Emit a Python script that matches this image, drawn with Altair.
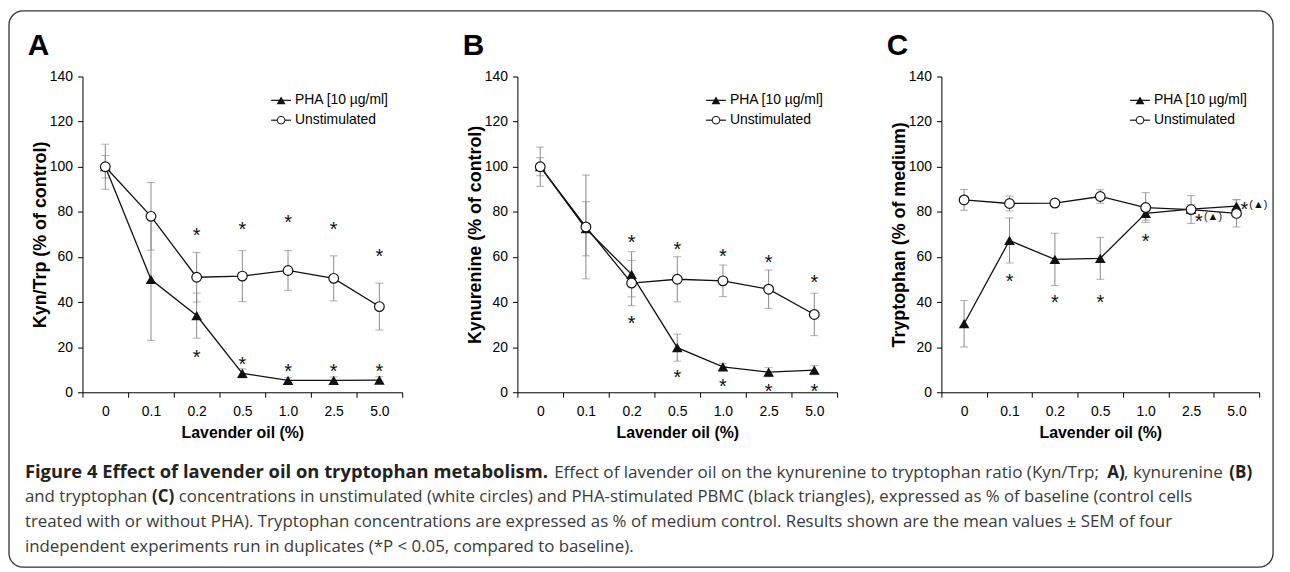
import json
import altair as alt
import pandas as pd

# ---------------- data ----------------
CATS = ["0", "0.1", "0.2", "0.5", "1.0", "2.5", "5.0"]

A_PHA = [100, 50, 34, 8.4, 5.3, 5.3, 5.4]
A_PHA_ERR = [5, 27, 10, 2, 1.2, 1.5, 1.5]
A_UNS = [100, 78, 51, 51.5, 54, 50.5, 38]
A_UNS_ERR = [10, 15, 11, 11.3, 8.8, 10, 10.4]
A_STAR_IDX = [2, 3, 4, 5, 6, 2, 3, 4, 5, 6]
A_STAR_Y = [71.4, 74.3, 77.3, 74.3, 62.3, 17.4, 14.2, 11.3, 11.3, 11.3]

B_PHA = [100, 72.5, 52.3, 19.8, 11.3, 8.9, 9.8]
B_PHA_ERR = [4, 12, 10, 6, 1.5, 2, 2]
B_UNS = [100, 73.3, 48.4, 50.1, 49.4, 45.7, 34.5]
B_UNS_ERR = [8.7, 23, 10, 10, 7, 8.5, 9.4]
B_STAR_IDX = [2, 3, 4, 5, 6, 2, 3, 4, 5, 6]
B_STAR_Y = [68.5, 65.2, 62.3, 59.4, 50.6, 32.6, 8.4, 4.3, 2.5, 2.5]

C_PHA = [30.4, 67.3, 58.9, 59.4, 79.3, 81.2, 82.5]
C_PHA_ERR = [10.3, 10, 11.6, 9.3, 3, 2, 3]
C_UNS = [85.3, 83.7, 83.9, 86.8, 81.9, 81.0, 79.3]
C_UNS_ERR = [4.6, 3.3, 1.5, 3, 6.6, 6.2, 6]
C_STAR_IDX = [1, 2, 3, 4]
C_STAR_Y = [51.2, 41.6, 41.6, 69.0]
C_NOTE_IDX = [5, 6]
C_NOTE_Y = [77.5, 83.2]

SERIES = ["PHA [10 µg/ml]", "Unstimulated"]

FONT = "Liberation Sans"
CAP_FONT = "Open Sans"
H = 318
LABEL_EXPR = json.dumps(CATS + [""]) + "[round(datum.value + 0.5)]"
INK = "#111"


def one():
    return alt.Chart(pd.DataFrame({"k": [0]}))


def panel(letter, ytitle, pha, pha_err, uns, uns_err, star_idx, star_y, width,
          note_idx=None, note_y=None, extra=None):
    rows = []
    for i, c in enumerate(CATS):
        rows.append(dict(idx=i, cat=c, series=SERIES[0], v=pha[i],
                         lo=pha[i] - pha_err[i], hi=pha[i] + pha_err[i]))
    for i, c in enumerate(CATS):
        rows.append(dict(idx=i, cat=c, series=SERIES[1], v=uns[i],
                         lo=uns[i] - uns_err[i], hi=uns[i] + uns_err[i]))
    df = pd.DataFrame(rows)
    step = width / 7.0

    xaxis = alt.Axis(values=[k - 0.5 for k in range(8)], labelExpr=LABEL_EXPR,
                     labelOffset=step / 2, labelFlush=False, labelOverlap=False,
                     title="Lavender oil (%)", titleFont=FONT, titleFontSize=16,
                     titleFontWeight="bold", titleColor="black", titleY=41,
                     titleBaseline="middle",
                     labelFont=FONT, labelFontSize=14, labelColor="black",
                     labelPadding=7, tickSize=5, tickColor="black",
                     domainColor="black", grid=False)
    yaxis = alt.Axis(values=list(range(0, 141, 20)), title=ytitle, titleFont=FONT,
                     titleFontSize=18, titleFontWeight="bold", titleColor="black",
                     titleX=-42, titleY=H / 2, titleBaseline="middle", titleAngle=-90,
                     titleAlign="center",
                     labelFont=FONT, labelFontSize=14, labelColor="black",
                     labelPadding=5, tickSize=5, tickColor="black",
                     domainColor="black", grid=False)
    xs = alt.Scale(domain=[-0.5, 6.5], nice=False, zero=False)
    ys = alt.Scale(domain=[0, 140], nice=False)

    def X():
        return alt.X("idx:Q", scale=xs, axis=xaxis)

    def Y(f):
        return alt.Y(f + ":Q", scale=ys, axis=yaxis)

    base = alt.Chart(df)
    err = base.mark_rule(color="#8a8a8a", strokeWidth=1).encode(
        x=X(), y=Y("lo"), y2="hi:Q")
    cap_lo = base.mark_tick(orient="horizontal", color="#8a8a8a", size=8,
                            thickness=1).encode(x=X(), y=Y("lo"))
    cap_hi = base.mark_tick(orient="horizontal", color="#8a8a8a", size=8,
                            thickness=1).encode(x=X(), y=Y("hi"))
    pha_df = df[df.series == SERIES[0]]
    uns_df = df[df.series == SERIES[1]]
    line_p = alt.Chart(pha_df).mark_line(color=INK, strokeWidth=1.3).encode(
        x=X(), y=Y("v"))
    line_u = alt.Chart(uns_df).mark_line(color=INK, strokeWidth=1.3).encode(
        x=X(), y=Y("v"))
    pts_p = alt.Chart(pha_df).mark_point(shape="triangle-up", filled=True,
                                         color=INK, size=115, opacity=1).encode(
        x=X(), y=Y("v"))
    pts_u = alt.Chart(uns_df).mark_point(shape="circle", filled=True, fill="white",
                                         stroke=INK, strokeWidth=1.2, size=95,
                                         opacity=1).encode(x=X(), y=Y("v"))
    sdf = pd.DataFrame({"idx": star_idx, "y": star_y})
    stars = alt.Chart(sdf).mark_text(text="*", font=FONT, fontSize=20, color=INK,
                                     baseline="middle", dy=5).encode(
        x=X(), y=Y("y"))

    layers = [err, cap_lo, cap_hi, line_p, line_u, pts_p, pts_u, stars]

    if note_idx is not None:
        ndf = pd.DataFrame({"idx": note_idx, "y": note_y})
        n1 = alt.Chart(ndf).mark_text(text="*", font=FONT, fontSize=20, color=INK,
                                      align="left", baseline="middle", dx=4, dy=5).encode(
            x=X(), y=Y("y"))
        n2 = alt.Chart(ndf).mark_text(text="(▲)", font=FONT, fontSize=11, color=INK,
                                      align="left", baseline="middle", dx=13, dy=0).encode(
            x=X(), y=Y("y"))
        layers += [n1, n2]

    # legend (drawn by hand, as in the original)
    for k, (name, ly) in enumerate(zip(SERIES, [24, 44])):
        layers.append(one().mark_rule(color=INK, strokeWidth=1.2).encode(
            x=alt.value(190), x2=alt.value(210), y=alt.value(ly)))
        if k == 0:
            layers.append(one().mark_point(shape="triangle-up", filled=True, color=INK,
                                           size=80, opacity=1).encode(
                x=alt.value(200), y=alt.value(ly)))
        else:
            layers.append(one().mark_point(shape="circle", filled=True, fill="white",
                                           stroke=INK, strokeWidth=1, size=60,
                                           opacity=1).encode(
                x=alt.value(200), y=alt.value(ly)))
        layers.append(one().mark_text(text=name, font=FONT, fontSize=14, color="black",
                                      align="left", baseline="middle").encode(
            x=alt.value(214), y=alt.value(ly)))

    # panel letter
    layers.append(one().mark_text(text=letter, font=FONT, fontSize=30, fontWeight="bold",
                                  color="black", align="left", baseline="middle").encode(
        x=alt.value(-55), y=alt.value(-31)))

    if extra:
        layers += extra
    return alt.layer(*layers).properties(width=width, height=H)


# ---------------- caption and frame (placed relative to panel A) ----------------
OX, OY = 83, 74
CAPTION = [
    (25, 478, "bold", 18.5, "Figure 4 Effect of lavender oil on tryptophan metabolism."),
    (558, 478, "normal", 17.2, "Effect of lavender oil on the kynurenine to tryptophan ratio (Kyn/Trp;"),
    (1115, 478, "bold", 17, "A)"),
    (1132, 478, "normal", 17.2, ", kynurenine"),
    (1238, 478, "bold", 17, "(B)"),
    (25, 503, "normal", 17, "and tryptophan"),
    (153, 503, "bold", 17, "(C)"),
    (180, 503, "normal", 16.9, "concentrations in unstimulated (white circles) and PHA-stimulated PBMC (black triangles), expressed as % of baseline (control cells"),
    (25, 528, "normal", 17, "treated with or without PHA). Tryptophan concentrations are expressed as % of medium control. Results shown are the mean values ± SEM of four"),
    (25, 553, "normal", 17, "independent experiments run in duplicates (*P < 0.05, compared to baseline)."),
]
extra = []
extra.append(one().mark_rect(fillOpacity=0, stroke="#333", strokeWidth=1.3,
                             cornerRadius=14).encode(
    x=alt.value(9 - OX), x2=alt.value(1282 - OX),
    y=alt.value(8 - OY), y2=alt.value(568 - OY)))
for px, py, w, fs, t in CAPTION:
    extra.append(one().mark_text(text=t, font=CAP_FONT, fontSize=fs, fontWeight=w,
                                 color="#3a3a3a" if w == "normal" else "#222",
                                 align="left", baseline="alphabetic").encode(
        x=alt.value(px - OX), y=alt.value(py - OY)))

pA = panel("A", "Kyn/Trp (% of control)", A_PHA, A_PHA_ERR, A_UNS, A_UNS_ERR,
           A_STAR_IDX, A_STAR_Y, 322, extra=extra)
pB = panel("B", "Kynurenine (% of control)", B_PHA, B_PHA_ERR, B_UNS, B_UNS_ERR,
           B_STAR_IDX, B_STAR_Y, 322)
pC = panel("C", "Tryptophan (% of medium)", C_PHA, C_PHA_ERR, C_UNS, C_UNS_ERR,
           C_STAR_IDX, C_STAR_Y, 320, note_idx=C_NOTE_IDX, note_y=C_NOTE_Y)


def spacer(w):
    return one().mark_point(opacity=0).encode(
        x=alt.value(0), y=alt.value(0)).properties(width=w, height=H)


chart = alt.hconcat(pA, spacer(116), pB, spacer(105), pC, spacing=0, bounds="flush"
                    ).properties(padding=0, background="white").configure_view(stroke=None)

chart.save("out.html", embed_options={"renderer": "svg", "actions": False})
